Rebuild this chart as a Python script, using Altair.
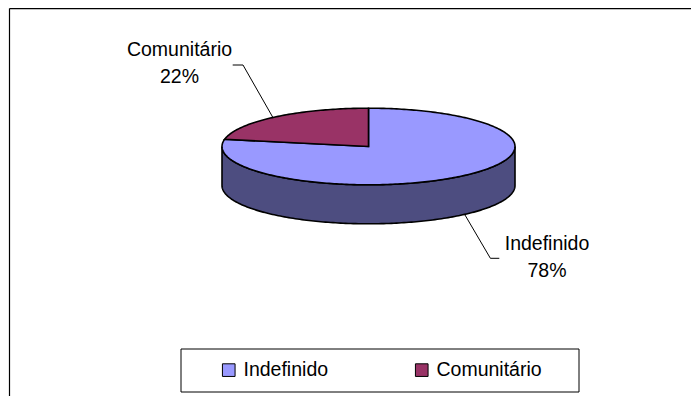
import altair as alt
import numpy as np
import pandas as pd

# ---- data ----
categories = ["Indefinido", "Comunitário"]
values = [78, 22]
colors = ["#9999FF", "#993366"]
side_color = "#4D4D80"

# ---- layout (view pixel coords; view starts at page (10, 10)) ----
W, H = 681, 386
cx, cy = 358.5, 136.5
rx, ry = 146.5, 38.3
depth = 39.0
FONT = "Liberation Sans"
FS = 19.5


def pt(a_deg, dy=0.0):
    a = np.radians(a_deg)
    return [float(cx + rx * np.sin(a)), float(cy - ry * np.cos(a) + dy)]


def arc(a0, a1, dy=0.0):
    n = max(int(abs(a1 - a0)), 2)
    return [pt(a, dy) for a in np.linspace(a0, a1, n + 1)]


total = sum(values)
slices = []
start = 0.0
for cat, v in zip(categories, values):
    span = v / total * 360.0
    ring = [[cx, cy]] + arc(start, start + span) + [[cx, cy]]
    slices.append({"type": "Feature", "properties": {"category": cat},
                   "geometry": {"type": "Polygon", "coordinates": [ring]}})
    start += span

# front side wall (visible half of the cylinder)
side_ring = arc(90, 270) + arc(270, 90, depth)
side_ring.append(side_ring[0])
side = [{"type": "Feature", "properties": {"category": "side"},
         "geometry": {"type": "Polygon", "coordinates": [side_ring]}}]

# leader lines and label positions
label_pos = {"Indefinido": (537.0, 239.5), "Comunitário": (169.5, 45.7)}
leaders = {
    "Indefinido": [[489.3, 248.3], [480.4, 248.3], [455.0, 205.0]],
    "Comunitário": [[222.7, 55.0], [233.0, 55.0], [262.8, 107.3]],
}
leader_feats = [{"type": "Feature", "properties": {"category": c},
                 "geometry": {"type": "LineString", "coordinates": leaders[c]}}
                for c in categories]

labels = pd.DataFrame({
    "category": categories,
    "text": [f"{c}\n{v}%" for c, v in zip(categories, values)],
    "lon": [label_pos[c][0] for c in categories],
    "lat": [label_pos[c][1] for c in categories],
})

proj = dict(type="identity", scale=1, translate=[0, 0])

side_layer = alt.Chart(alt.Data(values=side)).mark_geoshape(
    fill=side_color, stroke="black", strokeWidth=1.6
).encode(opacity=alt.value(1)).project(**proj)

top_layer = alt.Chart(alt.Data(values=slices)).mark_geoshape(
    stroke="black", strokeWidth=1.6
).encode(
    color=alt.Color(
        "properties.category:N",
        scale=alt.Scale(domain=categories, range=colors),
        sort=categories,
        legend=alt.Legend(
            orient="none", legendX=209, legendY=350, direction="horizontal",
            columns=2, title=None, symbolType="square", symbolSize=160,
            symbolStrokeColor="black", symbolStrokeWidth=1, symbolOpacity=1,
            labelFont=FONT, labelFontSize=FS, labelColor="black",
            labelOffset=5, columnPadding=83, padding=0, labelLimit=300,
        ),
    )
).project(**proj)

leader_layer = alt.Chart(alt.Data(values=leader_feats)).mark_geoshape(
    filled=False, stroke="black", strokeWidth=1
).encode(opacity=alt.value(1)).project(**proj)

text_layer = alt.Chart(labels).mark_text(
    font=FONT, fontSize=FS, color="black", align="center",
    baseline="alphabetic", lineBreak="\n", lineHeight=27
).encode(
    longitude="lon:Q", latitude="lat:Q", text="text:N"
).project(**proj)

legend_box = alt.Chart(alt.Data(values=[{"k": 1}])).mark_rect(
    fill="white", stroke="black", strokeWidth=1
).encode(x=alt.value(171), x2=alt.value(569), y=alt.value(339), y2=alt.value(382))

# chart frame: only its top and left edges fall inside the picture
frame_top = alt.Chart(alt.Data(values=[{"k": 1}])).mark_rule(
    color="black", strokeWidth=1.2
).encode(x=alt.value(-0.5), x2=alt.value(W + 20), y=alt.value(-1.4))
frame_left = alt.Chart(alt.Data(values=[{"k": 1}])).mark_rule(
    color="black", strokeWidth=1.2
).encode(x=alt.value(-0.5), y=alt.value(-1.4), y2=alt.value(H + 20))

chart = alt.layer(
    frame_top, frame_left, legend_box, side_layer, top_layer, leader_layer, text_layer
).properties(
    width=W, height=H,
    padding={"left": 2, "top": 2, "right": 0, "bottom": 0},
    autosize=alt.AutoSizeParams(type="none"),
).configure_view(stroke=None)

chart.save("out.html", embed_options={"renderer": "svg", "actions": False})
